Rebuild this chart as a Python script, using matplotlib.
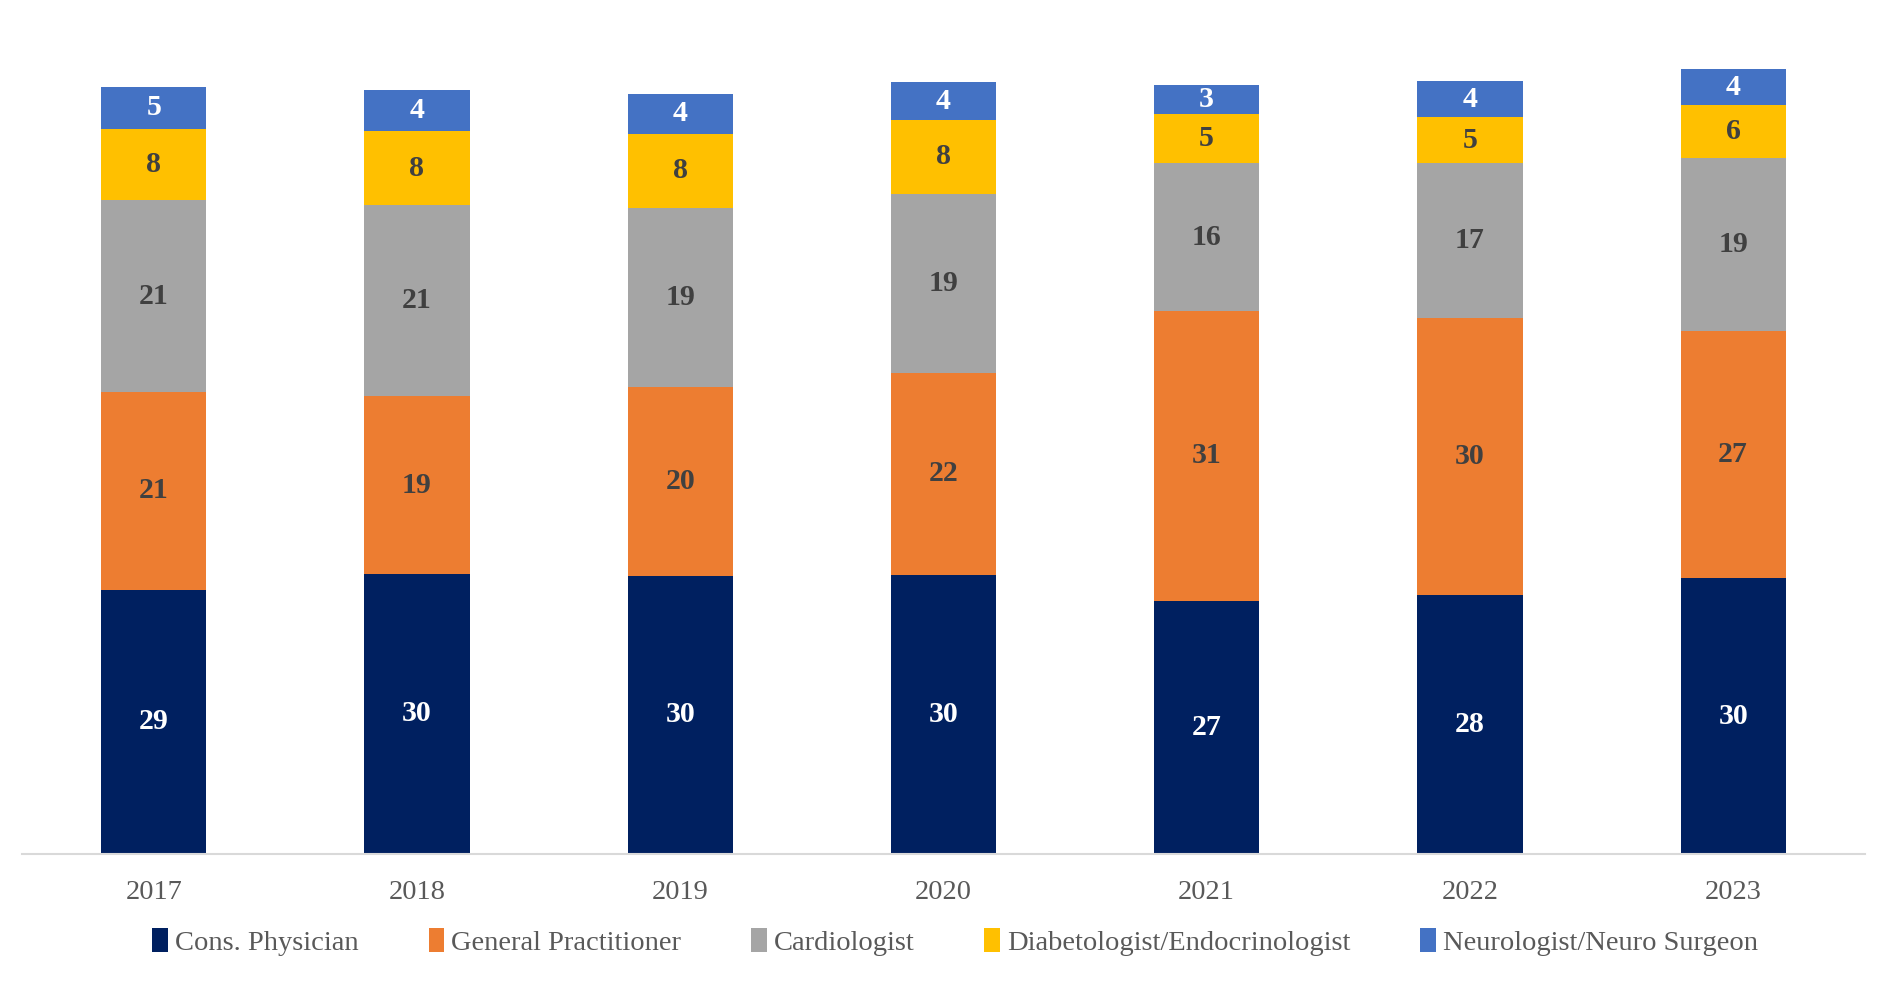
import matplotlib
matplotlib.use("Agg")
import matplotlib.pyplot as plt
import numpy as np

years = ["2017", "2018", "2019", "2020", "2021", "2022", "2023"]
series_names = ["Cons. Physician", "General Practitioner", "Cardiologist",
                "Diabetologist/Endocrinologist", "Neurologist/Neuro Surgeon"]
cons_physician = [28.6, 30.3, 30.1, 30.2, 27.4, 28.0, 29.8]
general_practitioner = [21.4, 19.2, 20.4, 21.8, 31.3, 30.0, 26.8]
cardiologist = [20.7, 20.7, 19.4, 19.4, 16.0, 16.7, 18.7]
diabetologist = [7.7, 8.0, 8.0, 8.0, 5.3, 5.0, 5.7]
neurologist = [4.6, 4.4, 4.3, 4.1, 3.2, 3.9, 3.9]

colors = ["#002060", "#ED7D31", "#A5A5A5", "#FFC000", "#4472C4"]
label_colors = ["white", "#404040", "#404040", "#404040", "white"]

plt.rcParams['font.family'] = ['Liberation Serif', 'DejaVu Serif']

fig = plt.figure(figsize=(18.88, 10.01), dpi=100)
ax = fig.add_axes([0.0117, 0.147, 0.976, 0.831])

data = [cons_physician, general_practitioner, cardiologist, diabetologist, neurologist]
x = np.arange(len(years))
bottom = np.zeros(len(years))
for vals, name, col, lc in zip(data, series_names, colors, label_colors):
    vals = np.array(vals)
    ax.bar(x, vals, width=0.40, bottom=bottom, color=col, label=name, zorder=2)
    for xi, b, v in zip(x, bottom, vals):
        ax.text(xi, b + v / 2, f"{v:.0f}", ha="center", va="center",
                fontsize=21.5, fontweight="bold", color=lc, zorder=3)
    bottom += vals

ax.set_xlim(-0.5, len(years) - 0.5)
ax.set_ylim(0, 90)
ax.set_xticks(x)
ax.set_xticklabels(years, fontsize=20.5, color="#595959")
ax.tick_params(axis="x", length=0, pad=19)
ax.set_yticks([])
for s in ["top", "right", "left"]:
    ax.spines[s].set_visible(False)
ax.spines["bottom"].set_color("#D9D9D9")
ax.spines["bottom"].set_linewidth(1.5)

fig.legend(loc="center", bbox_to_anchor=(0.506, 0.059), ncol=5, frameon=False,
           fontsize=20.5, handlelength=0.55, handleheight=0.9, handletextpad=0.25,
           columnspacing=2.45, labelcolor="#595959")

fig.savefig("out.png", dpi=100)
